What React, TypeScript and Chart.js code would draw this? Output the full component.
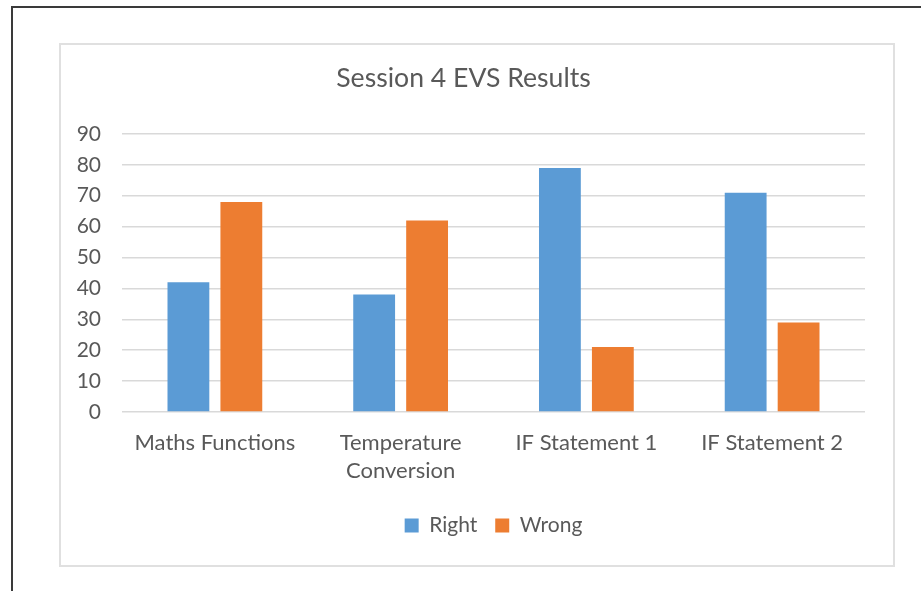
import React, { useEffect, useRef } from "react";
import { Chart, registerables } from "chart.js";

Chart.register(...registerables);

const categories: (string | string[])[] = [
  "Maths Functions",
  ["Temperature", "Conversion"],
  "IF Statement 1",
  "IF Statement 2",
];
const rightValues = [42, 38, 79, 71];
const wrongValues = [68, 62, 21, 29];
const yTicks = [0, 10, 20, 30, 40, 50, 60, 70, 80, 90];
const titleText = "Session 4 EVS Results";

const FONT = "Lato, 'Noto Sans', sans-serif";
const TEXT = "#595959";

export default function App() {
  const ref = useRef<HTMLCanvasElement | null>(null);

  useEffect(() => {
    if (!ref.current) return;
    const chart = new Chart(ref.current, {
      type: "bar",
      data: {
        labels: categories,
        datasets: [
          {
            label: "Right",
            data: rightValues,
            backgroundColor: "#5B9BD5",
            borderWidth: 0,
            barPercentage: 0.79,
            categoryPercentage: 0.57,
          },
          {
            label: "Wrong",
            data: wrongValues,
            backgroundColor: "#ED7D31",
            borderWidth: 0,
            barPercentage: 0.79,
            categoryPercentage: 0.57,
          },
        ],
      },
      options: {
        responsive: false,
        animation: false,
        layout: { padding: { top: 50, left: 62, right: 56, bottom: 45 } },
        plugins: {
          title: {
            display: true,
            text: titleText,
            color: TEXT,
            font: { family: FONT, size: 26.6, weight: "normal", lineHeight: 1.2 },
            padding: { top: 12, bottom: 40 },
          },
          legend: {
            position: "bottom",
            fullSize: false,
            labels: {
              color: TEXT,
              font: { family: FONT, size: 21 },
              boxWidth: 14,
              boxHeight: 14,
              padding: 18,
            },
          },
          tooltip: { enabled: false },
        },
        scales: {
          x: {
            grid: { display: false },
            border: { display: false },
            ticks: {
              color: TEXT,
              font: { family: FONT, size: 22, lineHeight: 1.27 },
              padding: 9,
              maxRotation: 0,
              autoSkip: false,
            },
            afterFit: (scale: any) => {
              scale.height = 85;
            },
          },
          y: {
            min: 0,
            max: 90,
            afterBuildTicks: (scale: any) => {
              scale.ticks = yTicks.map((v) => ({ value: v }));
            },
            grid: { color: "#d9d9d9", lineWidth: 1.5, drawTicks: false },
            border: { display: false },
            ticks: {
              color: TEXT,
              font: { family: FONT, size: 21 },
              padding: 21,
            },
            afterFit: (scale: any) => {
              scale.width = 60;
            },
          },
        },
      },
    });
    return () => chart.destroy();
  }, []);

  return (
    <div
      style={{
        position: "fixed",
        left: 0,
        top: 0,
        width: 921,
        height: 591,
        background: "#ffffff",
        overflow: "hidden",
      }}
    >
      <div
        style={{
          position: "absolute",
          left: 11,
          top: 6,
          width: 940,
          height: 620,
          borderLeft: "2px solid #3a3a3a",
          borderTop: "2px solid #3a3a3a",
        }}
      />
      <div
        style={{
          position: "absolute",
          left: 59,
          top: 43,
          width: 832,
          height: 520,
          border: "2px solid #e0e0e0",
        }}
      />
      <canvas
        ref={ref}
        width={921}
        height={591}
        style={{ position: "absolute", left: 0, top: 0, width: 921, height: 591 }}
      />
    </div>
  );
}
